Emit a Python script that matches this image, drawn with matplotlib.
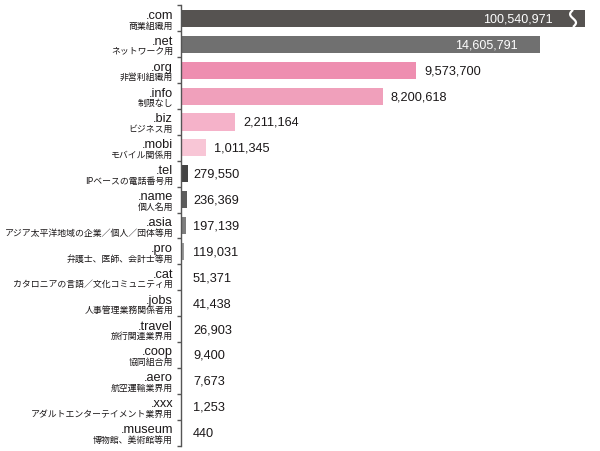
import matplotlib
matplotlib.use("Agg")
import matplotlib.pyplot as plt
import numpy as np

# gTLD registrations
domains = ['.com', '.net', '.org', '.info', '.biz', '.mobi', '.tel', '.name', '.asia',
           '.pro', '.cat', '.jobs', '.travel', '.coop', '.aero', '.xxx', '.museum']
descriptions = ['商業組織用', 'ネットワーク用', '非営利組織用', '制限なし', 'ビジネス用',
                'モバイル関係用', 'IPベースの電話番号用', '個人名用',
                'アジア太平洋地域の企業／個人／団体等用', '弁護士、医師、会計士等用',
                'カタロニアの言語／文化コミュニティ用', '人事管理業務関係者用', '旅行関連業界用',
                '協同組合用', '航空運輸業界用', 'アダルトエンターテイメント業界用', '博物館、美術館等用']
counts = [100540971, 14605791, 9573700, 8200618, 2211164, 1011345, 279550, 236369, 197139,
          119031, 51371, 41438, 26903, 9400, 7673, 1253, 440]
colors = ['#565351', '#707070', '#ee8eb0', '#f0a0bb', '#f5b2c9', '#f8c6d6', '#444444', '#5c5c5c',
          '#7e7e7e', '#9a9a9a', '#aaaaaa', '#a0a0a0', '#aaaaaa', '#b0b0b0', '#b0b0b0', '#b0b0b0', '#b0b0b0']

x_max = 16.64e6      # axis range
bar_cap = 16.44e6    # .com bar is cut off here
break_at = 15.95e6

latin = ['Liberation Sans', 'DejaVu Sans']
jp = ['Noto Sans CJK JP', 'DejaVu Sans']

fig = plt.figure(figsize=(6.0, 4.51), dpi=100)
ax = fig.add_axes([181 / 600, 5.5 / 451, 409 / 600, 440 / 451])

y = np.arange(len(domains))
shown = [min(c, bar_cap) for c in counts]
ax.barh(y, shown, height=0.66, color=colors, edgecolor='none')

ax.set_xlim(0, x_max)
ax.set_ylim(len(domains) - 0.5, -0.5)

# break mark on the .com bar
wy = np.linspace(-0.33, 0.33, 30)
wx = break_at + 0.12e6 * np.sin(wy / 0.33 * np.pi)
ax.plot(wx, wy, color='white', lw=1.6, solid_capstyle='butt')

px_per_val = 409 / x_max
for i, c in enumerate(counts):
    label = f'{c:,}'
    end = shown[i]
    if i == 0:
        ax.annotate(label, xy=(break_at, i), xytext=(-20, -1), textcoords='offset pixels',
                    ha='right', va='center', fontsize=9, color='white', family=latin)
    elif i == 1:
        ax.annotate(label, xy=(end, i), xytext=(-22, -1), textcoords='offset pixels',
                    ha='right', va='center', fontsize=9, color='white', family=latin)
    else:
        w = end * px_per_val
        off = 8 if w > 10 else 12 - w
        ax.annotate(label, xy=(end, i), xytext=(off, -1), textcoords='offset pixels',
                    ha='left', va='center', fontsize=9.2, color='#1a1718', family=latin)

    # two-line category label
    ax.annotate(domains[i], xy=(0, i), xycoords=('axes fraction', 'data'),
                xytext=(-8, -0.5), textcoords='offset pixels', ha='right', va='baseline',
                fontsize=9.2, color='#1a1718', family=latin)
    ax.annotate(descriptions[i], xy=(0, i), xycoords=('axes fraction', 'data'),
                xytext=(-8, -7.5), textcoords='offset pixels', ha='right', va='center',
                fontsize=6.4, color='#1a1718', family=jp)

for s in ['top', 'right', 'bottom']:
    ax.spines[s].set_visible(False)
ax.spines['left'].set_color('#555555')
ax.spines['left'].set_linewidth(1.0)
ax.set_xticks([])
ax.set_yticks(np.arange(-0.5, len(domains), 1.0))
ax.set_yticklabels([])
ax.tick_params(axis='y', direction='out', length=3, width=1, color='#555555')

fig.savefig('out.png', dpi=100)
